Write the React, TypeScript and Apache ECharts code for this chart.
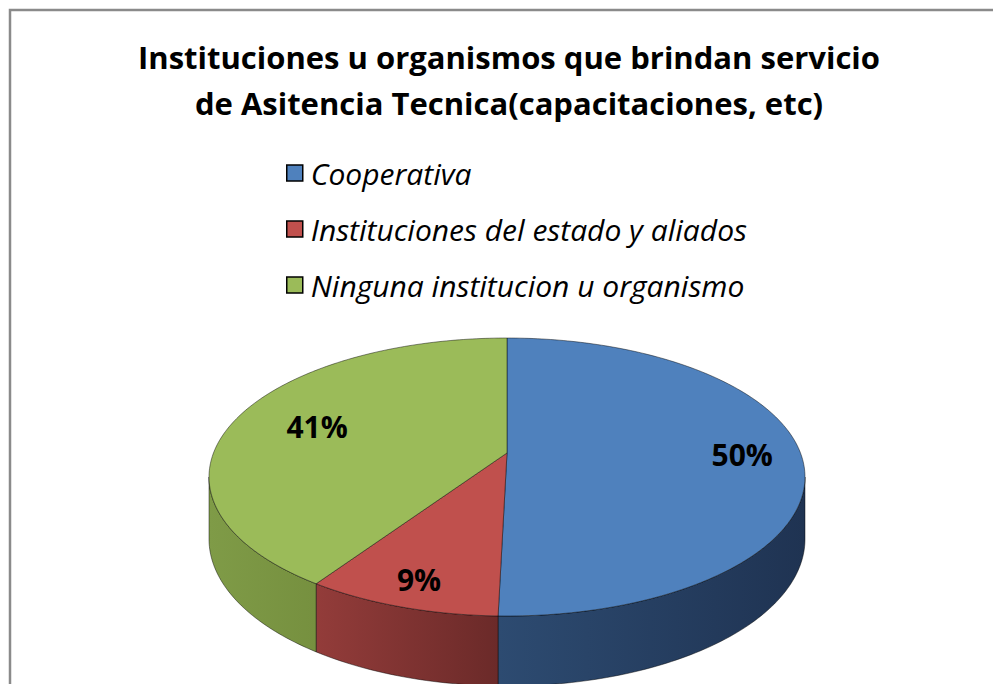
import React, { useEffect, useRef } from 'react';
import * as echarts from 'echarts';

const TITLE_LINES = [
  'Instituciones u organismos que brindan servicio',
  'de Asitencia Tecnica(capacitaciones, etc)',
];
const CATEGORIES = [
  'Cooperativa',
  'Instituciones del estado y aliados',
  'Ninguna institucion u organismo',
];
const VALUES = [50.4, 9.0, 40.6];
const TOP_COLORS = ['#4f81bd', '#c0504d', '#9bbb59'];
const SIDE_COLORS = [
  ['#2d4b71', '#1f3352'],
  ['#933c3a', '#6b2a29'],
  ['#7f9b47', '#76903f'],
];
const LABEL_RADII = [0.8, 0.85, 0.7];

// geometry of the tilted pie
const CX = 507;
const CY = 477;
const RX = 298;
const RY = 139;
const TILT = -0.173;
const DEPTH = 62;
const DEPTH_EXTRA = 8;

function project(r: number, phi: number) {
  const X = r * Math.sin(phi);
  const Y = -r * Math.cos(phi);
  const den = 1 + TILT * Y;
  const xn = (X * Math.sqrt(1 - TILT * TILT)) / den;
  const yn = (Y + TILT) / den;
  return [CX + RX * xn, CY + RY * yn, yn];
}

function arcPoints(a0: number, a1: number) {
  const pts: number[][] = [];
  const n = Math.max(2, Math.ceil(((a1 - a0) * 180) / Math.PI));
  for (let i = 0; i <= n; i++) {
    const a = a0 + ((a1 - a0) * i) / n;
    pts.push(project(1, a));
  }
  return pts;
}

export default function App() {
  const ref = useRef<HTMLDivElement>(null);
  useEffect(() => {
    if (!ref.current) return;
    const chart = echarts.init(ref.current, undefined, { renderer: 'svg' });
    const total = VALUES.reduce((s, v) => s + v, 0);
    const starts: number[] = [];
    let acc = 0;
    VALUES.forEach((v) => {
      starts.push(acc);
      acc += v;
    });
    const lo = Math.acos(TILT);
    const hi = 2 * Math.PI - lo;

    const series = CATEGORIES.map((name, idx) => ({
      type: 'custom',
      name,
      coordinateSystem: 'none',
      itemStyle: { color: TOP_COLORS[idx] },
      data: [[VALUES[idx]]],
      renderItem: (_params: any, api: any) => {
        const v = api.value(0);
        const a0 = (starts[idx] / total) * 2 * Math.PI;
        const a1 = a0 + (v / total) * 2 * Math.PI;
        const children: any[] = [];
        const s = Math.max(a0, lo);
        const e = Math.min(a1, hi);
        if (s < e) {
          const top = arcPoints(s, e);
          const bottom = top
            .slice()
            .reverse()
            .map((p) => [p[0], p[1] + DEPTH + DEPTH_EXTRA * Math.max(0, p[2])]);
          children.push({
            type: 'polygon',
            shape: { points: top.map((p) => [p[0], p[1]]).concat(bottom) },
            style: {
              fill: new echarts.graphic.LinearGradient(0, 0, 1, 0, [
                { offset: 0, color: SIDE_COLORS[idx][0] },
                { offset: 1, color: SIDE_COLORS[idx][1] },
              ]),
              stroke: 'rgba(0,0,0,0.75)',
              lineWidth: 0.6,
            },
          });
        }
        const apex = project(0, 0);
        const topPts = [[apex[0], apex[1]]].concat(
          arcPoints(a0, a1).map((p) => [p[0], p[1]])
        );
        children.push({
          type: 'polygon',
          shape: { points: topPts },
          style: { fill: TOP_COLORS[idx], stroke: 'rgba(0,0,0,0.75)', lineWidth: 0.6 },
        });
        const lp = project(LABEL_RADII[idx], (a0 + a1) / 2);
        children.push({
          type: 'text',
          style: {
            text: Math.round((v / total) * 100) + '%',
            x: lp[0],
            y: lp[1],
            align: 'center',
            verticalAlign: 'middle',
            fill: '#000',
            font: 'bold 30px "Open Sans"',
          },
        });
        return { type: 'group', children };
      },
    }));

    chart.setOption({
      animation: false,
      backgroundColor: '#fff',
      title: {
        text: TITLE_LINES.join('\n'),
        left: 509,
        top: 34,
        padding: 0,
        textAlign: 'center',
        textStyle: {
          fontFamily: 'Open Sans',
          fontWeight: 'bold',
          fontSize: 31,
          lineHeight: 46,
          color: '#000',
        },
      },
      legend: {
        orient: 'vertical',
        left: 286,
        top: 158,
        padding: 0,
        icon: 'rect',
        itemWidth: 16,
        itemHeight: 16,
        itemGap: 26,
        itemStyle: { borderColor: '#000', borderWidth: 1.5 },
        textStyle: {
          fontFamily: 'Open Sans',
          fontStyle: 'italic',
          fontSize: 30,
          lineHeight: 29,
          color: '#000',
          padding: [0, 0, 0, 3],
        },
        data: CATEGORIES,
      },
      graphic: [
        {
          type: 'rect',
          shape: { x: 10, y: 10, width: 1200, height: 900 },
          style: { fill: 'none', stroke: '#8a8a8a', lineWidth: 2.5 },
          silent: true,
        },
      ],
      series,
    });
    return () => chart.dispose();
  }, []);
  return (
    <div
      ref={ref}
      style={{ position: 'fixed', left: 0, top: 0, width: 993, height: 684 }}
    />
  );
}
